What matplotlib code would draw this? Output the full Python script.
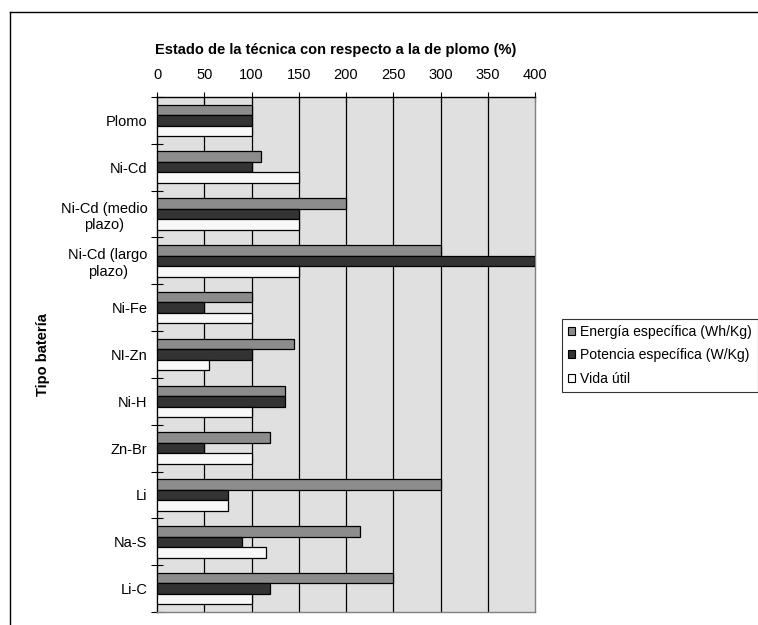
import matplotlib
matplotlib.use("Agg")
import matplotlib.pyplot as plt
from matplotlib.patches import Patch
from matplotlib.lines import Line2D
import numpy as np

plt.rcParams['font.family'] = ['Liberation Sans', 'DejaVu Sans']

categories = ["Plomo", "Ni-Cd", "Ni-Cd (medio\nplazo)", "Ni-Cd (largo\nplazo)", "Ni-Fe",
              "NI-Zn", "Ni-H", "Zn-Br", "Li", "Na-S", "Li-C"]
energia = [100, 110, 200, 300, 100, 145, 135, 120, 300, 215, 250]
potencia = [100, 100, 150, 400, 50, 100, 135, 50, 75, 90, 120]
vida = [100, 150, 150, 150, 100, 55, 100, 100, 75, 115, 100]
series_names = ["Energía específica (Wh/Kg)", "Potencia específica (W/Kg)", "Vida útil"]
x_ticks = [0, 50, 100, 150, 200, 250, 300, 350, 400]

W, H = 758, 625
FS = 10.5
fig = plt.figure(figsize=(W / 100, H / 100), dpi=100)

left, right, top, bottom = 157, 535, 97, 612
ax = fig.add_axes([left / W, 1 - bottom / H, (right - left) / W, (bottom - top) / H])
ax.set_facecolor('#e0e0e0')

colors = ['#8c8c8c', '#333333', '#f8f8f8']
bh = 0.224
y = np.arange(len(categories))
for i, (vals, c) in enumerate(zip([energia, potencia, vida], colors)):
    ax.barh(y + (i - 1) * bh, vals, height=bh, color=c, edgecolor='black',
            linewidth=0.9, zorder=3, label=series_names[i])

ax.set_xlim(0, 400)
ax.set_ylim(len(categories) - 0.5, -0.5)
ax.set_xticks(x_ticks)
ax.xaxis.tick_top()
ax.tick_params(axis='x', direction='inout', length=7, width=0.8, labelsize=FS, pad=7, colors='black')
for xv in x_ticks[1:-1]:
    ax.axvline(xv, color='black', lw=0.9, zorder=1)

ax.set_yticks(np.arange(len(categories) + 1) - 0.5)
ax.set_yticklabels([])
ax.tick_params(axis='y', direction='inout', length=9, width=0.8)
ax.set_yticks(y, minor=True)
ax.set_yticklabels(categories, minor=True, fontsize=FS, multialignment='center')
ax.tick_params(axis='y', which='minor', length=0, pad=7)

ax.spines['top'].set_color('black')
ax.spines['left'].set_color('black')
ax.spines['right'].set_color('#808080')
ax.spines['bottom'].set_color('#808080')
for s in ax.spines.values():
    s.set_linewidth(1.0)

fig.text(335.5 / W, 1 - 50 / H, "Estado de la técnica con respecto a la de plomo (%)",
         ha='center', va='center', fontsize=FS, fontweight='bold')
fig.text(43 / W, 1 - 355 / H, "Tipo batería", rotation=90, ha='center', va='center',
         fontsize=FS, fontweight='bold')

handles = [Patch(facecolor=c, edgecolor='black', linewidth=0.8) for c in colors]
leg = fig.legend(handles, series_names, loc='upper left',
                 bbox_to_anchor=(562 / W, 1 - 319 / H), bbox_transform=fig.transFigure,
                 fontsize=10.1, frameon=True, fancybox=False, borderaxespad=0,
                 handlelength=0.5, handleheight=0.5, handletextpad=0.35,
                 labelspacing=0.65, borderpad=0.45)
leg.get_frame().set_edgecolor('black')
leg.get_frame().set_linewidth(0.8)

fig.add_artist(Line2D([9.5 / W, 9.5 / W], [0, 1 - 11.5 / H], transform=fig.transFigure, color='black', lw=1))
fig.add_artist(Line2D([9.5 / W, 1], [1 - 11.5 / H, 1 - 11.5 / H], transform=fig.transFigure, color='black', lw=1))

fig.savefig("out.png", dpi=100)
